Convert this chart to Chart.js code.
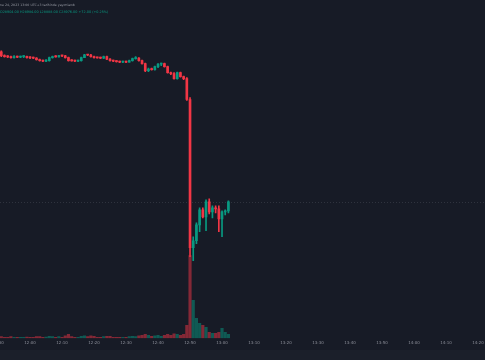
<!DOCTYPE html>
<html>
<head>
<meta charset="utf-8">
<script src="https://cdn.jsdelivr.net/npm/chart.js@4.4.0/dist/chart.umd.min.js"></script>
<style>
  html, body { margin: 0; padding: 0; background: #171b26; }
  canvas { display: block; }
</style>
</head>
<body>
<canvas id="chart" width="485" height="360"></canvas>
<script>
// minutes after 12:00, one candle per minute
const minutes = [-9,-8,-7,-6,-5,-4,-3,-2,-1,0,1,2,3,4,5,6,7,8,9,10,11,12,13,14,15,16,17,18,19,20,
  21,22,23,24,25,26,27,28,29,30,31,32,33,34,35,36,37,38,39,40,41,42,43,44,45,46,47,48,49,50,
  51,52,53,54,55,56,57,58,59,60,61,62];

const open = [30184,30152,30144,30144,30136,30144,30140,30144,30146,30136,30134,30132,30120,30112,30108,30112,30136,30144,30142,30152,
  30150,30136,30112,30110,30108,30112,30136,30160,30158,30144,30136,30134,30132,30144,30124,30112,30108,30104,30100,30104,
  30100,30112,30128,30132,30112,30088,30032,30044,30040,30064,30084,30088,30064,30016,30008,29968,30016,29984,29968,29800,
  28608,28664,28792,28912,28856,28976,28896,28928,28920,28840,28896,28904];
const high = [30192,30160,30152,30148,30152,30148,30148,30152,30148,30144,30140,30136,30124,30116,30120,30140,30148,30152,30156,30156,
  30156,30140,30120,30116,30116,30140,30164,30164,30164,30148,30140,30140,30148,30148,30128,30116,30112,30108,30108,30108,
  30116,30132,30144,30136,30116,30092,30052,30052,30068,30088,30092,30092,30068,30020,30016,30020,30020,29988,29976,29816,
  28696,28808,28928,28928,28992,29000,28944,28944,28944,28904,28912,28984];
const low = [30144,30140,30136,30132,30132,30136,30136,30136,30132,30128,30128,30116,30108,30104,30104,30108,30132,30140,30140,30144,
  30132,30108,30108,30104,30104,30108,30136,30152,30140,30132,30132,30128,30128,30120,30108,30104,30100,30096,30096,30096,
  30100,30108,30124,30108,30084,30024,30024,30036,30036,30056,30072,30060,30012,30000,29964,29964,29980,29960,29792,28536,
  28504,28640,28736,28848,28744,28880,28848,28888,28736,28696,28872,28888];
const close = [30152,30144,30142,30136,30144,30140,30144,30146,30136,30134,30132,30120,30112,30108,30116,30136,30144,30142,30152,30150,
  30136,30112,30110,30108,30112,30136,30160,30158,30144,30136,30134,30132,30144,30124,30112,30108,30104,30100,30104,30100,
  30112,30128,30132,30112,30088,30032,30044,30040,30064,30084,30088,30064,30016,30008,29968,30016,29984,29968,29800,28608,
  28664,28792,28912,28856,28976,28896,28928,28920,28840,28896,28904,28976];
const volume = [8,5,5,8,5,5,4,5,6,5,5,8,8,5,6,10,8,5,8,5,
  12,20,8,5,5,10,12,8,12,10,5,5,8,10,10,5,5,5,5,5,
  8,10,8,12,15,20,15,10,12,15,10,15,20,15,22,20,15,20,65,415,
  190,100,75,65,55,30,25,25,30,50,30,20];

const timeTicks = [-10,0,10,20,30,40,50,60,70,80,90,100,110,120,130,140];
const headerDate = 'ne 24, 2023 13:00 UTC+3 tarihinde yayımlandı';

const UP = '#089981', DOWN = '#f23645';
const isUp = open.map((o, i) => close[i] >= o);
const candleColors = isUp.map(u => u ? UP : DOWN);
const volColors = isUp.map(u => u ? 'rgba(8,153,129,0.5)' : 'rgba(242,54,69,0.5)');

function hhmm(m) {
  const t = 12 * 60 + m;
  const h = Math.floor(t / 60), mm = t % 60;
  return String(h).padStart(2, '0') + ':' + String(mm).padStart(2, '0');
}

const last = close.length - 1;
const o = open[last], h = high[last], l = low[last], c = close[last];
const chg = c - o;
const headerOhlc = 'O' + o.toFixed(2) + ' H' + h.toFixed(2) + ' L' + l.toFixed(2) + ' C' + c.toFixed(2) +
  ' ' + (chg >= 0 ? '+' : '') + chg.toFixed(2) + ' (' + (chg >= 0 ? '+' : '') + (chg / o * 100).toFixed(2) + '%)';

const paintPlugin = {
  id: 'paint',
  beforeDraw(chart) {
    const ctx = chart.ctx;
    ctx.save();
    ctx.fillStyle = '#171b26';
    ctx.fillRect(0, 0, chart.width, chart.height);
    ctx.fillStyle = '#1b1f2a';
    ctx.fillRect(0, 350, chart.width, chart.height - 350);
    ctx.restore();
  },
  beforeDatasetsDraw(chart) {
    // last price line
    const ctx = chart.ctx, y = chart.scales.y.getPixelForValue(close[last]);
    ctx.save();
    ctx.strokeStyle = 'rgba(120,125,135,0.25)';
    ctx.lineWidth = 1;
    ctx.setLineDash([1, 2]);
    ctx.beginPath();
    ctx.moveTo(0, Math.round(y) + 0.5);
    ctx.lineTo(chart.width, Math.round(y) + 0.5);
    ctx.stroke();
    ctx.restore();
  },
  afterDraw(chart) {
    const ctx = chart.ctx;
    ctx.save();
    ctx.textBaseline = 'middle';
    ctx.font = '3.2px "DejaVu Sans"';
    ctx.fillStyle = '#9598a1';
    ctx.fillText(headerDate, 0, 5);
    ctx.font = '3.4px "DejaVu Sans"';
    ctx.fillStyle = UP;
    ctx.fillText(headerOhlc, 0, 12.5);
    ctx.restore();
  }
};

new Chart(document.getElementById('chart'), {
  type: 'bar',
  data: {
    datasets: [
      {
        data: minutes.map((m, i) => ({x: m, y: [open[i], close[i]]})),
        backgroundColor: candleColors,
        barThickness: 2,
        minBarLength: 1,
        yAxisID: 'y'
      },
      {
        data: minutes.map((m, i) => ({x: m, y: [low[i], high[i]]})),
        backgroundColor: candleColors,
        barThickness: 1,
        minBarLength: 1,
        yAxisID: 'y'
      },
      {
        data: minutes.map((m, i) => ({x: m, y: volume[i]})),
        backgroundColor: volColors,
        barThickness: 2.5,
        yAxisID: 'yv'
      }
    ]
  },
  options: {
    responsive: false,
    animation: false,
    events: [],
    layout: {autoPadding: false, padding: {left: 0, right: 0, top: 0, bottom: 13}},
    plugins: {legend: {display: false}, tooltip: {enabled: false}},
    datasets: {bar: {grouped: false}},
    scales: {
      x: {
        type: 'linear',
        offset: false,
        min: -9.4,
        max: 142.2,
        afterBuildTicks(scale) { scale.ticks = timeTicks.map(v => ({value: v})); },
        afterFit(scale) { scale.paddingLeft = 0; scale.paddingRight = 0; },
        grid: {display: false, drawTicks: false, offset: false},
        border: {display: false},
        ticks: {
          autoSkip: false,
          maxRotation: 0,
          padding: 2,
          color: '#8c8f99',
          font: {size: 4, family: 'DejaVu Sans'},
          callback: v => hhmm(v)
        }
      },
      y: {display: false, min: 27880, max: 30600},
      yv: {display: false, min: 0, max: 1700}
    }
  },
  plugins: [paintPlugin]
});
</script>
</body>
</html>
